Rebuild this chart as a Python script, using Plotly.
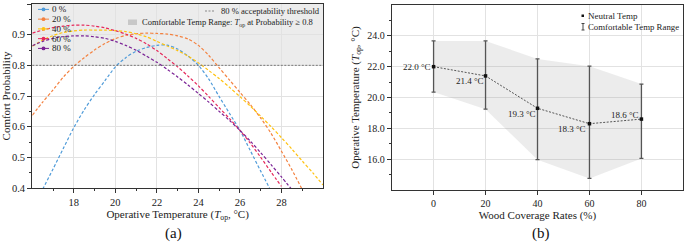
import plotly.graph_objects as go

W, H = 685, 243
FONT = "Liberation Serif"


def px(x):
    return x / W


def py(y):
    return 1 - y / H


# ---------------- Panel (a) data ----------------
series_labels = ["0 %", "20 %", "40 %", "60 %", "80 %"]
series_colors = ["#4F9BD9", "#F4813F", "#FFC20E", "#E6285A", "#7A2195"]

temp_0 = [16.5, 17, 17.5, 18, 18.5, 19, 19.5, 20, 20.5, 21, 21.5, 22, 22.5, 23, 23.5,
          24, 24.5, 25, 25.5, 26, 26.5, 27, 27.5]
prob_0 = [0.396, 0.462, 0.53, 0.597, 0.655, 0.705, 0.75, 0.795, 0.825, 0.846, 0.858, 0.865,
          0.866, 0.853, 0.83, 0.80, 0.755, 0.698, 0.643, 0.588, 0.522, 0.455, 0.39]

temp_20 = [16, 16.5, 17, 17.5, 18, 18.5, 19, 19.5, 20, 20.5, 21, 21.5, 22, 22.5, 23, 23.5,
           24, 24.5, 25, 25.5, 26, 26.5, 27, 27.5, 28, 28.5, 29]
prob_20 = [0.637, 0.68, 0.72, 0.762, 0.797, 0.825, 0.85, 0.871, 0.887, 0.898, 0.903, 0.905,
           0.904, 0.902, 0.896, 0.886, 0.865, 0.832, 0.792, 0.752, 0.712, 0.672, 0.628,
           0.578, 0.52, 0.46, 0.395]

temp_40 = [16, 16.5, 17, 17.5, 18, 18.5, 19, 19.5, 20, 20.5, 21, 21.5, 22, 22.5, 23, 23.5,
           24, 24.5, 25, 25.5, 26, 26.5, 27, 27.5, 28, 28.5, 29, 29.5, 30]
prob_40 = [0.862, 0.882, 0.897, 0.907, 0.912, 0.915, 0.915, 0.915, 0.913, 0.91, 0.903, 0.893,
           0.878, 0.863, 0.848, 0.83, 0.808, 0.783, 0.757, 0.728, 0.698, 0.667, 0.634,
           0.60, 0.564, 0.527, 0.488, 0.45, 0.41]

temp_60 = [16, 16.5, 17, 17.5, 18, 18.5, 19, 19.5, 20, 20.5, 21, 21.5, 22, 22.5, 23, 23.5,
           24, 24.5, 25, 25.5, 26, 26.5, 27, 27.5, 28]
prob_60 = [0.905, 0.915, 0.923, 0.928, 0.931, 0.931, 0.928, 0.922, 0.913, 0.902, 0.888, 0.87,
           0.848, 0.822, 0.795, 0.765, 0.733, 0.698, 0.662, 0.626, 0.588, 0.546, 0.50,
           0.452, 0.405]

temp_80 = [16, 16.5, 17, 17.5, 18, 18.5, 19, 19.5, 20, 20.5, 21, 21.5, 22, 22.5, 23, 23.5,
           24, 24.5, 25, 25.5, 26, 26.5, 27, 27.5, 28, 28.5]
prob_80 = [0.864, 0.878, 0.888, 0.894, 0.896, 0.896, 0.893, 0.888, 0.878, 0.865, 0.849, 0.83,
           0.81, 0.787, 0.762, 0.736, 0.708, 0.68, 0.65, 0.62, 0.588, 0.553, 0.515,
           0.476, 0.436, 0.395]

threshold = 0.8
temp_ticks = [18, 20, 22, 24, 26, 28]
prob_ticks = [0.4, 0.5, 0.6, 0.7, 0.8, 0.9, 1.0]

# ---------------- Panel (b) data ----------------
wood_rates = [0, 20, 40, 60, 80]
neutral_temp = [22.0, 21.4, 19.3, 18.3, 18.6]
range_upper = [23.67, 23.67, 22.5, 22.03, 20.87]
range_lower = [20.35, 19.24, 15.97, 14.75, 16.05]
rate_ticks = [0, 20, 40, 60, 80]
optemp_ticks = [16, 18, 20, 22, 24]

# label placement styles (pixel offsets), kept separate from the data
label_xshift = [-1, 0, 0, -1, 0]
label_yshift = [0, -5, -6, -5, 4]

fig = go.Figure()

temps = [temp_0, temp_20, temp_40, temp_60, temp_80]
probs = [prob_0, prob_20, prob_40, prob_60, prob_80]
for lab, col, t, p in zip(series_labels, series_colors, temps, probs):
    fig.add_trace(go.Scatter(
        x=t, y=p, mode="lines", name=lab, showlegend=False,
        line=dict(color=col, width=1.2, dash="3px,2px", shape="spline", smoothing=0.8),
        xaxis="x", yaxis="y"))

# Panel (b): shaded comfortable range
fig.add_trace(go.Scatter(x=wood_rates, y=range_upper, mode="lines", line=dict(width=0),
                         showlegend=False, hoverinfo="skip", xaxis="x2", yaxis="y2"))
fig.add_trace(go.Scatter(x=wood_rates, y=range_lower, mode="lines", line=dict(width=0),
                         fill="tonexty", fillcolor="rgba(150,150,150,0.18)",
                         showlegend=False, hoverinfo="skip", xaxis="x2", yaxis="y2"))
err_plus = [u - n for u, n in zip(range_upper, neutral_temp)]
err_minus = [n - l for n, l in zip(neutral_temp, range_lower)]
fig.add_trace(go.Scatter(
    x=wood_rates, y=neutral_temp, mode="lines+markers", showlegend=False,
    line=dict(color="#555555", width=1, dash="2px,1.5px"),
    marker=dict(symbol="square", size=3.5, color="#111111"),
    error_y=dict(type="data", symmetric=False, array=err_plus, arrayminus=err_minus,
                 color="#555555", thickness=1.3, width=2),
    xaxis="x2", yaxis="y2"))

axis_common = dict(showline=True, linecolor="#333333", linewidth=1.3, mirror=True,
                   ticks="outside", ticklen=4, tickwidth=1, tickcolor="#333333",
                   showgrid=True, gridcolor="#e2e2e2", gridwidth=1, zeroline=False,
                   automargin=False)

fig.update_layout(
    width=W, height=H,
    margin=dict(l=0, r=0, t=0, b=0),
    paper_bgcolor="white", plot_bgcolor="white",
    font=dict(family=FONT, color="#222222"),
    showlegend=False,
    xaxis=dict(axis_common, domain=[px(32.3), px(323)], range=[16, 30], anchor="y",
               tickmode="array", tickvals=temp_ticks,
               tickfont=dict(family=FONT, size=10.5, color="#222"),
               minor=dict(tickvals=[17, 19, 21, 23, 25, 27, 29], ticks="outside",
                          ticklen=2, tickcolor="#333333", showgrid=False),
               title=dict(text="Operative Temperature (<i>T</i><sub>op</sub>, °C)",
                          font=dict(family=FONT, size=11, color="#222"), standoff=1)),
    yaxis=dict(axis_common, domain=[py(188), py(4)], range=[0.4, 1.0], anchor="x",
               tickmode="array", tickvals=prob_ticks, tickformat=".1f",
               tickfont=dict(family=FONT, size=10.5, color="#222"),
               minor=dict(tickvals=[0.45, 0.55, 0.65, 0.75, 0.85, 0.95], ticks="outside",
                          ticklen=2, tickcolor="#333333", showgrid=False),
               title=dict(text="Comfort Probability",
                          font=dict(family=FONT, size=11, color="#222"), standoff=2)),
    xaxis2=dict(axis_common, domain=[px(392), px(683)], range=[-16, 96], anchor="y2",
                tickmode="array", tickvals=rate_ticks,
                tickfont=dict(family=FONT, size=10, color="#222"),
                title=dict(text="Wood Coverage Rates (%)",
                           font=dict(family=FONT, size=11, color="#222"), standoff=1)),
    yaxis2=dict(axis_common, domain=[py(190), py(5)], range=[14, 26], anchor="x2",
                tickmode="array", tickvals=optemp_ticks, tickformat=".1f",
                tickfont=dict(family=FONT, size=10, color="#222"),
                minor=dict(tickvals=[15, 17, 19, 21, 23, 25], ticks="outside",
                           ticklen=2, tickcolor="#333333", showgrid=False),
                title=dict(text="Operative Temperature (<i>T</i><sub>op</sub>, °C)",
                           font=dict(family=FONT, size=11, color="#222"), standoff=5)),
)

shapes = []
# comfortable region (probability >= threshold) in panel (a)
shapes.append(dict(type="rect", xref="x domain", yref="y", x0=0, x1=1, y0=threshold, y1=1.0,
                   fillcolor="#ececec", line=dict(width=0), layer="below"))
shapes.append(dict(type="line", xref="x domain", yref="y", x0=0, x1=1, y0=threshold,
                   y1=threshold, line=dict(color="#777777", width=1, dash="2px,1.5px")))

annotations = []
# legend for series (panel a)
for i, (lab, col) in enumerate(zip(series_labels, series_colors)):
    yc = 9.4 + i * 9.75
    shapes.append(dict(type="line", xref="paper", yref="paper", x0=px(38), x1=px(49),
                       y0=py(yc), y1=py(yc), line=dict(color=col, width=1)))
    shapes.append(dict(type="circle", xref="paper", yref="paper", x0=px(41.6), x1=px(45.4),
                       y0=py(yc + 1.9), y1=py(yc - 1.9), fillcolor=col, line=dict(width=0)))
    annotations.append(dict(text=lab, xref="paper", yref="paper", x=px(50), y=py(yc),
                            xanchor="left", yanchor="middle", showarrow=False,
                            font=dict(family=FONT, size=9, color="#222")))

# threshold / range legend (panel a)
shapes.append(dict(type="line", xref="paper", yref="paper", x0=px(205), x1=px(215),
                   y0=py(11), y1=py(11), line=dict(color="#888888", width=1, dash="2px,1.5px")))
annotations.append(dict(text="80 % acceptability threshold", xref="paper", yref="paper",
                        x=px(219), y=py(11), xanchor="left", yanchor="middle", showarrow=False,
                        font=dict(family=FONT, size=8.6, color="#222")))
shapes.append(dict(type="rect", xref="paper", yref="paper", x0=px(128), x1=px(137),
                   y0=py(25), y1=py(19.5), fillcolor="#c8c8c8", line=dict(width=0)))
annotations.append(dict(text="Comfortable Temp Range: <i>T</i><sub>op</sub> at Probability ≥ 0.8",
                        xref="paper", yref="paper", x=px(139.5), y=py(22.2), xanchor="left",
                        yanchor="middle", showarrow=False,
                        font=dict(family=FONT, size=8.5, color="#222")))

# legend panel (b)
shapes.append(dict(type="rect", xref="paper", yref="paper", x0=px(581.5), x1=px(584),
                   y0=py(17), y1=py(14.5), fillcolor="#111111", line=dict(width=0)))
annotations.append(dict(text="Neutral Temp", xref="paper", yref="paper", x=px(585.5),
                        y=py(15.7), xanchor="left", yanchor="middle", showarrow=False,
                        font=dict(family=FONT, size=9, color="#222")))
shapes.append(dict(type="line", xref="paper", yref="paper", x0=px(583), x1=px(583),
                   y0=py(30), y1=py(23.5), line=dict(color="#444", width=1)))
shapes.append(dict(type="line", xref="paper", yref="paper", x0=px(581.5), x1=px(584.5),
                   y0=py(30), y1=py(30), line=dict(color="#444", width=1)))
shapes.append(dict(type="line", xref="paper", yref="paper", x0=px(581.5), x1=px(584.5),
                   y0=py(23.5), y1=py(23.5), line=dict(color="#444", width=1)))
annotations.append(dict(text="Comfortable Temp Range", xref="paper", yref="paper", x=px(586),
                        y=py(26.8), xanchor="left", yanchor="middle", showarrow=False,
                        font=dict(family=FONT, size=8.8, color="#222")))

# data labels in panel (b)
for r, v, xs, ys in zip(wood_rates, neutral_temp, label_xshift, label_yshift):
    annotations.append(dict(text=f"{v:.1f} °C", xref="x2", yref="y2", x=r, y=v,
                            xanchor="right", yanchor="middle", xshift=xs, yshift=ys,
                            showarrow=False, font=dict(family=FONT, size=9, color="#222")))

# panel captions
annotations.append(dict(text="(a)", xref="paper", yref="paper", x=px(173), y=py(233),
                        xanchor="center", yanchor="middle", showarrow=False,
                        font=dict(family=FONT, size=15, color="#111")))
annotations.append(dict(text="(b)", xref="paper", yref="paper", x=px(541), y=py(233),
                        xanchor="center", yanchor="middle", showarrow=False,
                        font=dict(family=FONT, size=15, color="#111")))

fig.update_layout(shapes=shapes, annotations=annotations)
fig.write_html("out.html", config={"displayModeBar": False},
               post_script="document.body.style.margin='0';document.body.style.overflow='hidden';")
